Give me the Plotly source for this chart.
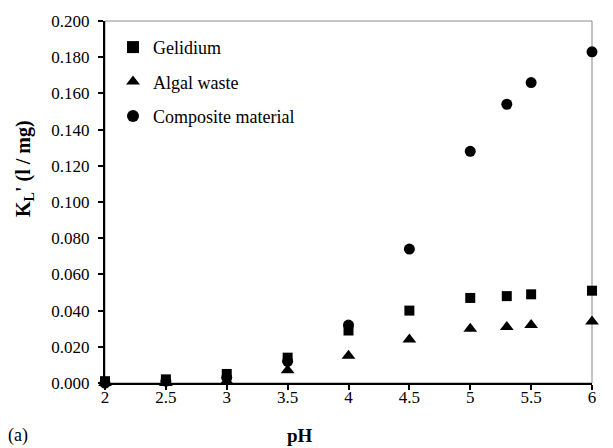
import plotly.graph_objects as go

ph = [2, 2.5, 3, 3.5, 4, 4.5, 5, 5.3, 5.5, 6]
gelidium = [0.001, 0.002, 0.005, 0.014, 0.029, 0.040, 0.047, 0.048, 0.049, 0.051]
algal = [0.000, 0.000, 0.001, 0.007, 0.015, 0.024, 0.030, 0.031, 0.032, 0.034]
composite = [0.000, 0.001, 0.003, 0.012, 0.032, 0.074, 0.128, 0.154, 0.166, 0.183]

x_ticks = [2, 2.5, 3, 3.5, 4, 4.5, 5, 5.5, 6]
x_labels = ["2", "2.5", "3", "3.5", "4", "4.5", "5", "5.5", "6"]
y_ticks = [0, 0.02, 0.04, 0.06, 0.08, 0.10, 0.12, 0.14, 0.16, 0.18, 0.20]

FONT = "Liberation Serif"

W, H = 613, 448
L, R, T, B = 105, 21, 16, 65

fig = go.Figure()
fig.add_trace(go.Scatter(x=ph, y=composite, mode="markers", name="Composite material",
                         legendgroup="c", legendrank=3, cliponaxis=False,
                         marker=dict(symbol="circle", size=11, color="black")))
fig.add_trace(go.Scatter(x=ph, y=gelidium, mode="markers", name="Gelidium",
                         legendgroup="g", legendrank=1, cliponaxis=False,
                         marker=dict(symbol="square", size=10, color="black")))
fig.add_trace(go.Scatter(x=ph, y=algal, mode="markers", name="Algal waste",
                         legendgroup="a", legendrank=2, cliponaxis=False,
                         marker=dict(symbol="triangle-up", size=12, color="black")))

fig.add_shape(type="rect", xref="paper", yref="paper", x0=0, y0=0, x1=1, y1=1,
              line=dict(color="#888888", width=1), layer="below")

pw, ph_ = W - L - R, H - T - B

fig.update_layout(
    width=W, height=H,
    margin=dict(l=L, r=R, t=T, b=B),
    paper_bgcolor="white", plot_bgcolor="white",
    font=dict(family=FONT, size=17, color="black"),
    showlegend=True,
    legend=dict(x=(113 - L) / pw, y=1 - (24 - T) / ph_, xanchor="left", yanchor="top",
                bgcolor="rgba(0,0,0,0)", font=dict(family=FONT, size=18),
                tracegroupgap=8, itemsizing="constant"),
    xaxis=dict(range=[2, 6], tickvals=x_ticks, ticktext=x_labels,
               showgrid=False, zeroline=False, showline=True, linecolor="black",
               linewidth=2, ticks="outside", ticklen=5, tickwidth=1.5, tickcolor="black",
               ticklabelstandoff=-7,
               tickfont=dict(family=FONT, size=17)),
    yaxis=dict(range=[0, 0.2], tickvals=y_ticks, tickformat=".3f",
               showgrid=False, zeroline=False, showline=True, linecolor="black",
               linewidth=2, ticks="outside", ticklen=5, tickwidth=1.5, tickcolor="black",
               ticklabelstandoff=5,
               tickfont=dict(family=FONT, size=17)),
)

# axis titles and panel label
fig.add_annotation(text="<b>pH</b>", xref="paper", yref="paper",
                   x=(300 - L) / pw, y=-(436 - (H - B)) / ph_,
                   xanchor="center", yanchor="middle", showarrow=False,
                   font=dict(family=FONT, size=19))
fig.add_annotation(text="<b>K<sub>L</sub>' (l / mg)</b>", xref="paper", yref="paper",
                   x=-(L - 25) / pw, y=1 - (166 - T) / ph_, textangle=-90,
                   xanchor="center", yanchor="middle", showarrow=False,
                   font=dict(family=FONT, size=20))
fig.add_annotation(text="(a)", xref="paper", yref="paper",
                   x=-(L - 6) / pw, y=-(436 - (H - B)) / ph_,
                   xanchor="left", yanchor="middle", showarrow=False,
                   font=dict(family=FONT, size=18))

fig.write_html("out.html", config={"displayModeBar": False},
               post_script="document.body.style.margin='0';document.body.style.padding='0';")
